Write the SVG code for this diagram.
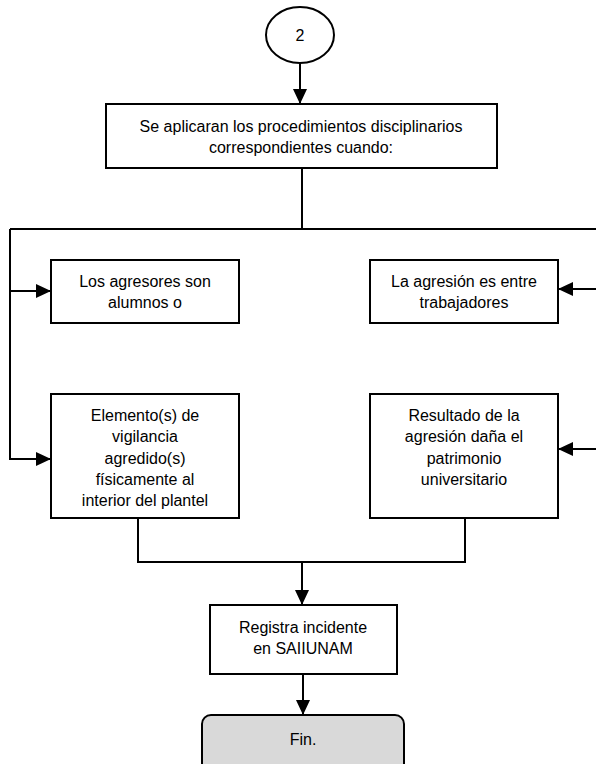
<svg xmlns="http://www.w3.org/2000/svg" width="596" height="764" viewBox="0 0 596 764">
<style>
.box{fill:#fff;stroke:#000;stroke-width:2}
.fin{fill:#d9d9d9;stroke:#000;stroke-width:2}
.ln{fill:none;stroke:#000;stroke-width:2}
text{font-family:"Liberation Sans",Arial,sans-serif;font-size:16px;fill:#000;text-anchor:middle}
</style>
<defs>
<marker id="arr" viewBox="0 0 15 14" refX="15" refY="7" markerWidth="15" markerHeight="14" markerUnits="userSpaceOnUse" orient="auto">
<path d="M0,0 L15,7 L0,14 Z" fill="#000"/>
</marker>
</defs>
<rect width="596" height="764" fill="#fff"/>
<g id="connectors">
<line class="ln" x1="300" y1="63" x2="300" y2="104" marker-end="url(#arr)"/>
<polyline class="ln" points="302,168 302,229"/>
<polyline class="ln" points="10,229 600,229"/>
<polyline class="ln" points="10,229 10,459 51,459" marker-end="url(#arr)"/>
<line class="ln" x1="10" y1="291" x2="51" y2="291" marker-end="url(#arr)"/>
<line class="ln" x1="600" y1="289" x2="558" y2="289" marker-end="url(#arr)"/>
<line class="ln" x1="600" y1="449" x2="558" y2="449" marker-end="url(#arr)"/>
<polyline class="ln" points="138,518 138,562 465,562 465,518"/>
<line class="ln" x1="302" y1="562" x2="302" y2="605" marker-end="url(#arr)"/>
<line class="ln" x1="303" y1="674" x2="303" y2="715" marker-end="url(#arr)"/>
</g>
<g id="n2">
<ellipse class="box" cx="300" cy="35" rx="34" ry="28"/>
<text x="300" y="41">2</text>
</g>
<g id="procedimientos">
<rect class="box" x="106" y="104" width="391" height="64"/>
<text x="301" y="132">Se aplicaran los procedimientos disciplinarios</text>
<text x="301" y="153">correspondientes cuando:</text>
</g>
<g id="agresores">
<rect class="box" x="51" y="260" width="188" height="63"/>
<text x="145" y="287">Los agresores son</text>
<text x="145" y="308">alumnos o</text>
</g>
<g id="trabajadores">
<rect class="box" x="370" y="260" width="188" height="63"/>
<text x="464" y="287">La agresión es entre</text>
<text x="464" y="308">trabajadores</text>
</g>
<g id="vigilancia">
<rect class="box" x="51" y="394" width="188" height="124"/>
<text x="145" y="421">Elemento(s) de</text>
<text x="145" y="442">vigilancia</text>
<text x="145" y="464">agredido(s)</text>
<text x="145" y="485">físicamente al</text>
<text x="145" y="506">interior del plantel</text>
</g>
<g id="patrimonio">
<rect class="box" x="370" y="394" width="188" height="124"/>
<text x="464" y="421">Resultado de la</text>
<text x="464" y="442">agresión daña el</text>
<text x="464" y="464">patrimonio</text>
<text x="464" y="485">universitario</text>
</g>
<g id="registra">
<rect class="box" x="210" y="605" width="187" height="69"/>
<text x="303" y="633">Registra incidente</text>
<text x="303" y="654">en SAIIUNAM</text>
</g>
<g id="fin">
<rect class="fin" x="202" y="715" width="202" height="60" rx="9"/>
<text x="303" y="745">Fin.</text>
</g>
</svg>
